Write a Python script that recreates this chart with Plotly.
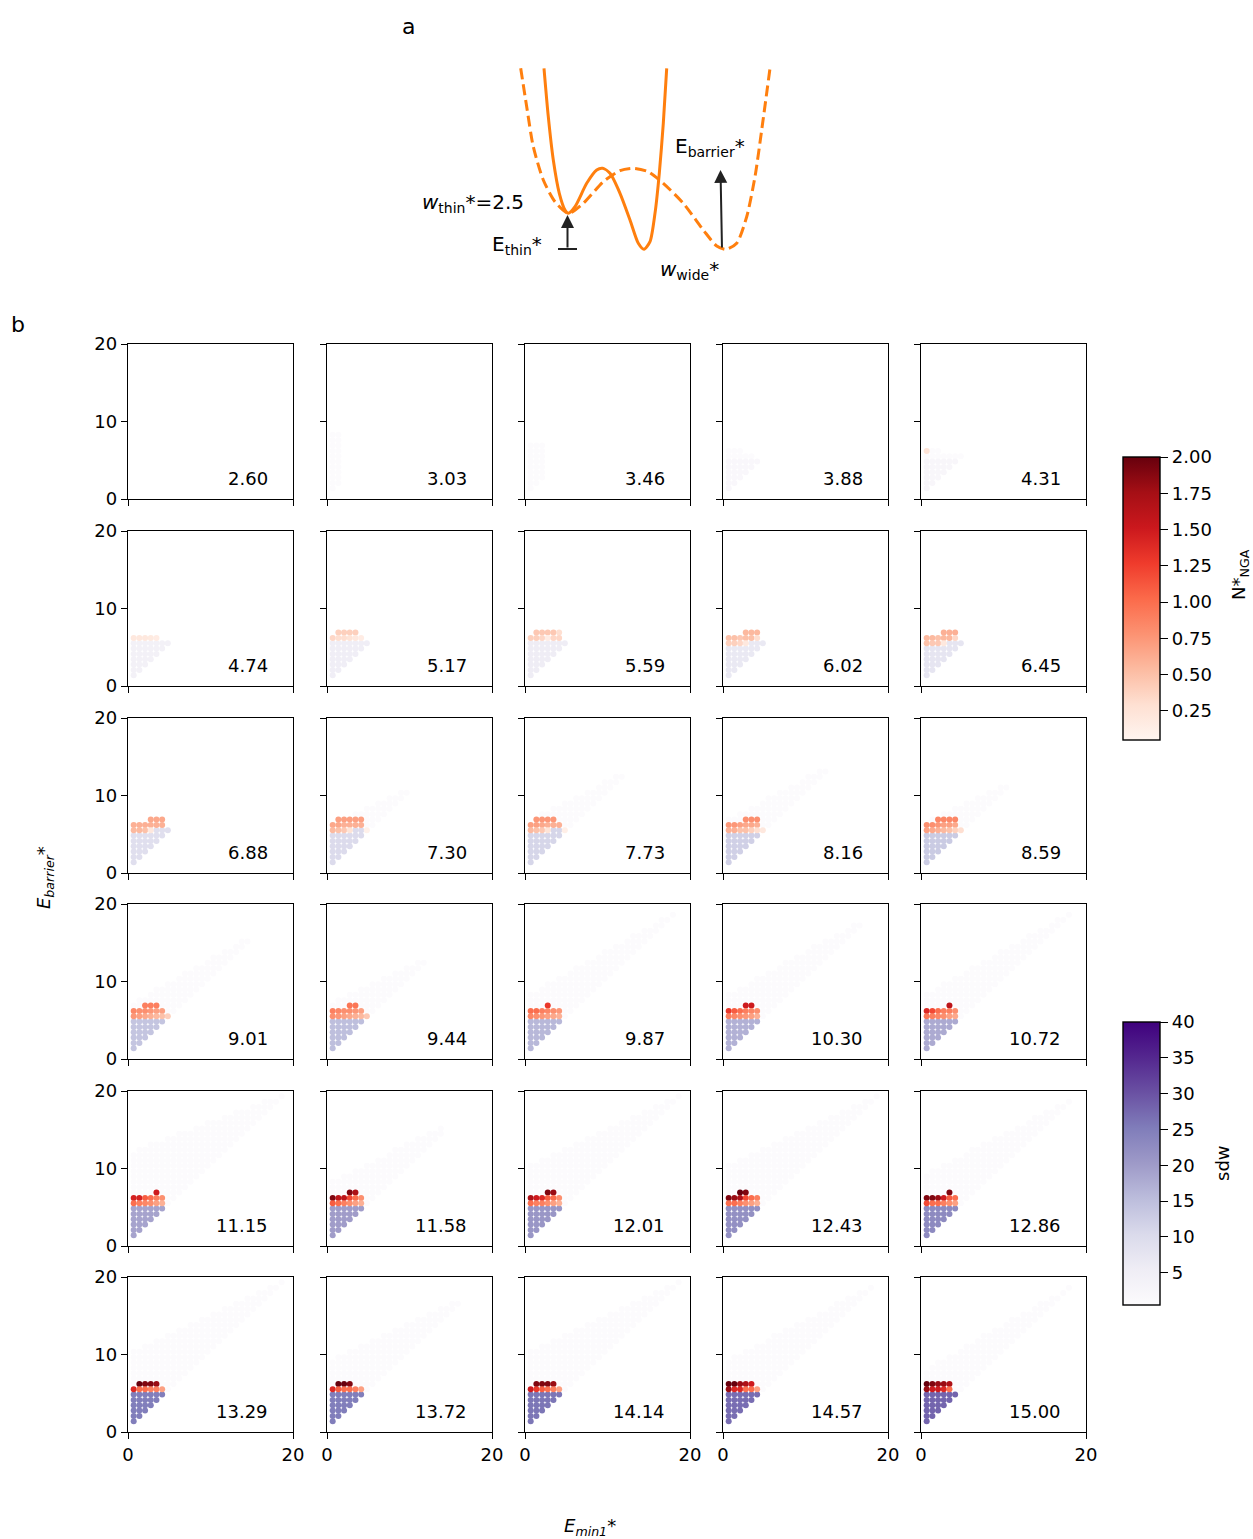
import numpy as np
import plotly.graph_objects as go

FIG_W, FIG_H = 1253, 1539
FONT = "DejaVu Sans"

# ---------------- data ----------------
E_GRID = np.linspace(0, 20, 30)   # grid of E_min1* / E_barrier* values (index = row/col)

W_WIDE_LABELS = ["2.60", "3.03", "3.46", "3.88", "4.31", "4.74", "5.17", "5.59", "6.02", "6.45",
                 "6.88", "7.30", "7.73", "8.16", "8.59", "9.01", "9.44", "9.87", "10.30", "10.72",
                 "11.15", "11.58", "12.01", "12.43", "12.86", "13.29", "13.72", "14.14", "14.57", "15.00"]

# sdw value of the purple triangle (rows 2..top, cols 1..row-1)
SDW_LEVEL = [0, 0, 0, 1.8, 2.2, 4, 5, 5.5, 6.5, 7.5,
             9, 10, 11, 12, 13, 14, 15, 16, 17, 18,
             19, 20, 21, 22, 23, 25, 25, 26, 27, 28]
SDW_TOP_ROW = [0, 0, 0, 7, 7, 8, 8, 8, 8, 8,
               8, 8, 8, 8, 8, 8, 8, 7, 7, 7,
               7, 7, 7, 7, 7, 7, 7, 7, 7, 7]

# N*_NGA values: {row index: [values from column 1 ...]}
NGA_ROWS = [
    {}, {}, {}, {},
    {9: [0.25]},
    {9: [0.2, 0.2, 0.2, 0.18, 0.15]},
    {10: [None, 0.4, 0.4, 0.4, 0.4], 9: [0.35, 0.3, 0.3, 0.25, 0.2, 0.15]},
    {10: [None, 0.45, 0.45, 0.45, 0.45, 0.3], 9: [0.4, 0.4, 0.35, 0.15, 0.35, 0.35]},
    {10: [None, None, None, 0.55, 0.55, 0.55], 9: [0.5, 0.5, 0.45, 0.5, 0.5, 0.3], 8: [0.4, 0.4, 0.35, 0.2]},
    {10: [None, None, None, 0.6, 0.6, 0.6], 9: [0.55, 0.55, 0.5, 0.55, 0.55, 0.35], 8: [0.5, 0.45, 0.45, 0.2]},
    {10: [None, None, None, 0.65, 0.65, 0.65], 9: [0.6, 0.6, 0.6, 0.6, 0.6, 0.6], 8: [0.55, 0.55, 0.5, 0.2]},
    {10: [None, 0.7, 0.7, 0.7, 0.7, 0.7], 9: [0.65, 0.65, 0.6, 0.6, 0.6, 0.6], 8: [0.55, 0.5, 0.45, 0.25, None, None, 0.1]},
    {10: [None, 0.75, 0.75, 0.75, 0.75], 9: [0.7, 0.7, 0.65, 0.6, 0.6, 0.6], 8: [0.55, 0.5, 0.45, 0.25, None, None, 0.12]},
    {10: [None, None, None, 0.8, 0.8, 0.8], 9: [0.75, 0.75, 0.7, 0.65, 0.65, 0.6], 8: [0.6, 0.6, 0.5, 0.5, 0.4, 0.3, 0.2]},
    {10: [None, None, 0.85, 0.85, 0.85, 0.85], 9: [0.8, 0.8, 0.75, 0.7, 0.7, 0.65], 8: [0.7, 0.65, 0.6, 0.55, 0.5, 0.4, 0.3]},
    {10: [None, None, 0.9, 0.9, 0.9], 9: [0.85, 0.8, 0.8, 0.75, 0.7, 0.7], 8: [0.75, 0.7, 0.65, 0.6, 0.55, 0.5, 0.4]},
    {10: [None, None, None, 0.95, 0.95], 9: [0.9, 0.85, 0.8, 0.8, 0.75, 0.7], 8: [0.8, 0.75, 0.7, 0.65, 0.6, 0.55, 0.45]},
    {10: [None, None, None, 1.3], 9: [1.0, 1.0, 0.9, 0.85, 0.8, 0.75], 8: [0.85, 0.8, 0.75, 0.7, 0.65, 0.6]},
    {10: [None, None, None, 1.5, 1.5], 9: [1.3, 1.1, 1.0, 0.9, 0.85, 0.8], 8: [0.9, 0.85, 0.8, 0.75, 0.7, 0.6]},
    {10: [None, None, None, None, 1.6], 9: [1.4, 1.2, 1.0, 0.9, 0.9, 0.8], 8: [0.95, 0.9, 0.85, 0.8, 0.7, 0.65]},
    {10: [None, None, None, None, 1.5], 9: [1.45, 1.45, 1.1, 1.0, 0.9, 0.8], 8: [1.0, 0.9, 0.85, 0.8, 0.7, 0.6]},
    {10: [None, None, None, 1.9, 1.7], 9: [1.9, 1.6, 1.6, 1.2, 1.0, 0.8], 8: [1.1, 1.0, 0.9, 0.8, 0.7, 0.6]},
    {10: [None, None, None, 1.9, 1.8], 9: [1.7, 1.5, 1.4, 1.1, 1.0, 0.8], 8: [1.0, 0.9, 0.9, 0.8, 0.7, 0.6]},
    {10: [None, None, 2.0, 1.9], 9: [1.9, 1.8, 1.7, 1.2, 1.0, 0.9], 8: [1.0, 1.0, 0.9, 0.8, 0.7, 0.6]},
    {10: [None, None, None, None, 1.9], 9: [1.9, 1.9, 1.8, 1.5, 1.1, 1.0], 8: [1.2, 1.0, 1.0, 0.9, 0.8, 0.7]},
    {9: [None, 2.0, 1.9, 1.9, 1.8], 8: [1.4, 1.0, 1.0, 0.9, 0.9, 0.7]},
    {9: [None, 2.0, 2.0, 1.9], 8: [1.4, 1.1, 1.0, 1.0, 0.9, 0.7]},
    {9: [None, 1.9, 1.9, 1.9, 1.8], 8: [1.5, 1.3, 1.1, 1.0, 0.9, 0.7]},
    {9: [2.0, 2.0, 1.8, 1.7, 1.5], 8: [1.8, 1.4, 1.4, 1.0, 1.0, 0.7]},
    {9: [2.0, 1.9, 1.8, 1.8, 1.7], 8: [1.8, 1.5, 1.5, 1.4, 1.0]},
]

# near-zero sdw region: (E_barrier at E_min1=0, E_min1 end, E_barrier at end)
FAINT_WEDGE = [None, (8.9, 1.4, 8.9), (7.0, 2.1, 7.0), (7.0, 5.0, 5.2), (7.0, 5.0, 5.5),
               None, None, None, None, None,
               None, (6.0, 10.0, 11.0), (6.5, 12.0, 13.0), (6.5, 13.0, 14.0), (6.5, 11.0, 12.0),
               (7.0, 15.0, 16.0), (7.0, 12.0, 13.0), (8.0, 20.0, 20.0), (8.0, 17.0, 18.0), (8.0, 20.0, 20.0),
               (12.0, 20.0, 20.0), (8.0, 14.0, 15.5), (10.0, 20.0, 20.0), (10.0, 20.0, 20.0), (9.0, 20.0, 20.0),
               (10.0, 20.0, 20.0), (9.0, 16.0, 17.0), (10.0, 20.0, 20.0), (9.0, 20.0, 20.0), (7.8, 20.0, 20.0)]
FAINT_SDW = 0.5

NGA_TICKS = [0.25, 0.50, 0.75, 1.00, 1.25, 1.50, 1.75, 2.00]
SDW_TICKS = [5, 10, 15, 20, 25, 30, 35, 40]
AXIS_TICKS_Y = [0, 10, 20]
AXIS_TICKS_X = [0, 20]

# panel a schematic potentials (pixel space)
THIN_X = [544, 548.3, 553.3, 559.3, 565, 568.3, 575, 586.7, 596.7, 602.7, 610, 620, 630, 638.3, 644,
          650, 655, 659.3, 663.3, 666.7]
THIN_Y = [68.3, 116.7, 160, 193.3, 210, 213.3, 206.7, 183.3, 170, 168.3, 173.3, 193.3, 220, 243.3, 249.3,
          241.7, 213.3, 173.3, 123.3, 68.3]
WIDE_X = [520.7, 526.7, 533.3, 543.3, 555, 568.3, 583.3, 603.3, 620, 633.3, 648.3, 663.3, 683.3, 703.3,
          716.7, 726, 736.7, 746.7, 755, 761.7, 770]
WIDE_Y = [68.3, 106.7, 146.7, 180, 201.7, 213.3, 203.3, 181.7, 170.7, 168.3, 171.7, 183.3, 203.3, 230,
          246, 249.3, 243.3, 216.7, 176.7, 130, 68.3]

# ---------------- figure ----------------
fig = go.Figure()
layout = dict(width=FIG_W, height=FIG_H, margin=dict(l=0, r=0, t=0, b=0, autoexpand=False),
              paper_bgcolor="white", plot_bgcolor="white", showlegend=False,
              font=dict(family=FONT, size=18, color="black"))
annotations = []
shapes = []

COL_LEFT = [128, 327, 525, 723, 921]
ROW_TOP = [344, 531, 718, 904, 1091, 1277]
PW, PH = 165, 155


def px(x):
    return x / FIG_W


def py(y):
    return 1 - y / FIG_H


for k in range(30):
    i, j = divmod(k, 5)
    xa = "x" if k == 0 else f"x{k + 1}"
    ya = "y" if k == 0 else f"y{k + 1}"
    occupied = set()
    rx, ry, rv = [], [], []
    for r, vals in NGA_ROWS[k].items():
        for ci, v in enumerate(vals):
            if v is None:
                continue
            c = ci + 1
            rx.append(E_GRID[c]); ry.append(E_GRID[r]); rv.append(v)
            occupied.add((r, c))
    sx, sy, sv = [], [], []
    if SDW_LEVEL[k] > 0:
        for r in range(2, SDW_TOP_ROW[k] + 1):
            for c in range(1, r):
                if (r, c) in occupied:
                    continue
                sx.append(E_GRID[c]); sy.append(E_GRID[r]); sv.append(SDW_LEVEL[k])
                occupied.add((r, c))
    fx, fy, fv = [], [], []
    if FAINT_WEDGE[k] is not None:
        y0, x1, y1 = FAINT_WEDGE[k]
        for c in range(1, 30):
            if E_GRID[c] > x1 + 1e-9:
                break
            ytop = y0 + (y1 - y0) * E_GRID[c] / x1
            for r in range(c + 1, 30):
                if E_GRID[r] > ytop + 1e-9:
                    break
                if (r, c) in occupied:
                    continue
                fx.append(E_GRID[c]); fy.append(E_GRID[r]); fv.append(FAINT_SDW)
    if fx:
        fig.add_trace(go.Scatter(x=fx, y=fy, mode="markers", xaxis=xa, yaxis=ya, hoverinfo="skip",
                                 marker=dict(size=6, color=fv, coloraxis="coloraxis2", line=dict(width=0))))
    if sx:
        fig.add_trace(go.Scatter(x=sx, y=sy, mode="markers", xaxis=xa, yaxis=ya,
                                 marker=dict(size=6, color=sv, coloraxis="coloraxis2", line=dict(width=0))))
    if rx:
        fig.add_trace(go.Scatter(x=rx, y=ry, mode="markers", xaxis=xa, yaxis=ya,
                                 marker=dict(size=6, color=rv, coloraxis="coloraxis", line=dict(width=0))))

    x0 = COL_LEFT[j]; t0 = ROW_TOP[i]
    common = dict(range=[0, 20], showgrid=False, zeroline=False, showline=True, mirror=True,
                  linecolor="black", linewidth=1.4, ticks="outside", ticklen=6, tickwidth=1.4,
                  tickcolor="black", tickfont=dict(family=FONT, size=18, color="black"), fixedrange=True)
    layout["xaxis" if k == 0 else f"xaxis{k + 1}"] = dict(
        common, domain=[px(x0), px(x0 + PW)], anchor=ya, tickvals=AXIS_TICKS_X,
        showticklabels=(i == 5))
    layout["yaxis" if k == 0 else f"yaxis{k + 1}"] = dict(
        common, domain=[py(t0 + PH), py(t0)], anchor=xa, tickvals=AXIS_TICKS_Y,
        showticklabels=(j == 0))
    annotations.append(dict(x=17.2, y=2.7, xref=xa, yref=ya, text=W_WIDE_LABELS[k], showarrow=False,
                            xanchor="right", yanchor="middle", font=dict(size=18)))

# panel a
fig.add_trace(go.Scatter(x=WIDE_X, y=WIDE_Y, mode="lines", xaxis="x31", yaxis="y31",
                         line=dict(color="#ff7f0e", width=3, dash="11px,5px", shape="spline", smoothing=0.7)))
fig.add_trace(go.Scatter(x=THIN_X, y=THIN_Y, mode="lines", xaxis="x31", yaxis="y31",
                         line=dict(color="#ff7f0e", width=3, shape="spline", smoothing=0.7)))
layout["xaxis31"] = dict(domain=[px(400), px(800)], range=[400, 800], visible=False, anchor="y31", fixedrange=True)
layout["yaxis31"] = dict(domain=[py(300), py(50)], range=[300, 50], visible=False, anchor="x31", fixedrange=True)

arrow_common = dict(xref="x31", yref="y31", axref="x31", ayref="y31", text="", showarrow=True,
                    arrowhead=2, arrowsize=1.3, arrowwidth=2, arrowcolor="#222222")
annotations.append(dict(arrow_common, x=567.5, y=215, ax=567.5, ay=249))
annotations.append(dict(arrow_common, x=720.5, y=170, ax=722, ay=249))
shapes.append(dict(type="line", xref="x31", yref="y31", x0=558, x1=577, y0=249, y1=249,
                   line=dict(color="#222222", width=2)))

a_txt = dict(xref="x31", yref="y31", showarrow=False, yanchor="middle", font=dict(size=20))
annotations.append(dict(a_txt, x=526, y=203, xanchor="right", text="<i>w</i><sub>thin</sub>*=2.5"))
annotations.append(dict(a_txt, x=544, y=245, xanchor="right", text="E<sub>thin</sub>*"))
annotations.append(dict(a_txt, x=673, y=147, xanchor="left", text="E<sub>barrier</sub>*"))
annotations.append(dict(a_txt, x=658, y=270, xanchor="left", text="<i>w</i><sub>wide</sub>*"))

# figure letters and axis titles
annotations.append(dict(x=px(408), y=py(26), xref="paper", yref="paper", text="a", showarrow=False,
                        xanchor="center", yanchor="middle", font=dict(size=22)))
annotations.append(dict(x=px(18), y=py(325), xref="paper", yref="paper", text="b", showarrow=False,
                        xanchor="center", yanchor="middle", font=dict(size=22)))
annotations.append(dict(x=px(45), y=py(878), xref="paper", yref="paper", text="<i>E<sub>barrier</sub>*</i>",
                        showarrow=False, textangle=-90, xanchor="center", yanchor="middle", font=dict(size=18)))
annotations.append(dict(x=px(590), y=py(1527), xref="paper", yref="paper", text="<i>E<sub>min1</sub>*</i>",
                        showarrow=False, xanchor="center", yanchor="middle", font=dict(size=18)))
annotations.append(dict(x=px(1240), y=py(575), xref="paper", yref="paper", text="N*<sub>NGA</sub>",
                        showarrow=False, textangle=-90, xanchor="center", yanchor="middle", font=dict(size=18)))
annotations.append(dict(x=px(1222), y=py(1163), xref="paper", yref="paper", text="sdw",
                        showarrow=False, textangle=-90, xanchor="center", yanchor="middle", font=dict(size=18)))

cb_common = dict(xanchor="left", yanchor="middle", lenmode="pixels", len=283, thicknessmode="pixels",
                 thickness=37, outlinecolor="black", outlinewidth=1.4, ticks="outside", ticklen=8,
                 tickwidth=1.4, tickcolor="black", tickfont=dict(family=FONT, size=18, color="black"),
                 xpad=0, ypad=0)
layout["coloraxis"] = dict(colorscale="Reds", cmin=0.05, cmax=2.0,
                           colorbar=dict(cb_common, x=px(1123), y=py(598.5), tickvals=NGA_TICKS,
                                         ticktext=[f"{t:.2f}" for t in NGA_TICKS]))
layout["coloraxis2"] = dict(colorscale="Purples", cmin=0.5, cmax=40,
                            colorbar=dict(cb_common, x=px(1123), y=py(1163.5), tickvals=SDW_TICKS,
                                          ticktext=[str(t) for t in SDW_TICKS]))
layout["annotations"] = annotations
layout["shapes"] = shapes
fig.update_layout(**layout)
fig.write_html("out.html")
